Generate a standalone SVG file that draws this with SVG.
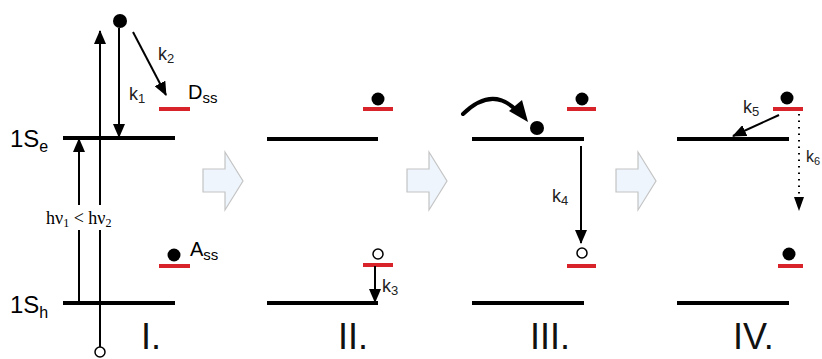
<svg xmlns="http://www.w3.org/2000/svg" width="822" height="359" viewBox="0 0 822 359">
<style>
.lvl{stroke:#000;stroke-width:4;fill:none}
.red{stroke:#d8232a;stroke-width:4;fill:none}
.ln{stroke:#000;stroke-width:2;fill:none}
.dot{fill:#000}
.hole{fill:#fff;stroke:#000;stroke-width:1.5}
.blk{fill:#eef5fc;stroke:#c4c4c4;stroke-width:1.2}
.t{font-family:"Liberation Sans",Arial,sans-serif;fill:#000}
.k{font-family:"Liberation Sans",Arial,sans-serif;font-size:18px;fill:#222}
.sub{font-size:13px}
.rn{font-family:"Liberation Sans",Arial,sans-serif;font-size:36px;fill:#111}
</style>
<defs>
<marker id="ah" markerWidth="14" markerHeight="12" refX="13" refY="6" orient="auto" markerUnits="userSpaceOnUse">
<path d="M0,0 L14,6 L0,12 Z" fill="#000"/>
</marker>
</defs>

<g id="block-arrows">
<path class="blk" d="M203,169 H225 V152 L243,181 L225,210 V192 H203 Z"/>
<path class="blk" d="M407,169 H429 V152 L447,181 L429,210 V192 H407 Z"/>
<path class="blk" d="M616,169 H638 V152 L656,181 L638,210 V192 H616 Z"/>
</g>

<g id="panel-I">
<line class="lvl" x1="63" y1="138" x2="175" y2="138"/>
<line class="lvl" x1="63" y1="303" x2="175" y2="303"/>
<text class="t" x="10" y="147" font-size="24">1S<tspan font-size="16" dy="5">e</tspan></text>
<text class="t" x="10" y="313" font-size="24">1S<tspan font-size="16" dy="5">h</tspan></text>
<line class="red" x1="159" y1="109" x2="190" y2="109"/>
<text class="t" x="188" y="99" font-size="20">D<tspan font-size="15" dy="4">ss</tspan></text>
<line class="red" x1="159" y1="266" x2="190" y2="266"/>
<circle class="dot" cx="174" cy="255" r="6.5"/>
<text class="t" x="190" y="256" font-size="20">A<tspan font-size="15" dy="4">ss</tspan></text>
<circle class="dot" cx="120" cy="21" r="7"/>
<circle class="hole" cx="100" cy="352" r="5"/>
<text x="46" y="224" font-size="18" style="font-family:'Liberation Serif',serif">hν<tspan font-size="12" dy="3">1</tspan><tspan dy="-3"> &lt; hν</tspan><tspan font-size="12" dy="3">2</tspan></text>
<text class="k" x="129" y="100">k<tspan class="sub" dy="3">1</tspan></text>
<text class="k" x="158" y="60">k<tspan class="sub" dy="3">2</tspan></text>
<text class="rn" x="141" y="349">I.</text>
</g>

<g id="panel-II">
<line class="lvl" x1="267" y1="139" x2="378" y2="139"/>
<line class="lvl" x1="267" y1="303" x2="378" y2="303"/>
<line class="red" x1="363" y1="109" x2="393" y2="109"/>
<circle class="dot" cx="378" cy="99" r="6.5"/>
<line class="red" x1="363" y1="265" x2="393" y2="265"/>
<circle class="hole" cx="378" cy="254" r="5"/>
<text class="k" x="382" y="292">k<tspan class="sub" dy="3">3</tspan></text>
<text class="rn" x="338" y="349">II.</text>
</g>

<g id="panel-III">
<line class="lvl" x1="472" y1="139" x2="584" y2="139"/>
<line class="lvl" x1="472" y1="303" x2="584" y2="303"/>
<line class="red" x1="567" y1="109" x2="596" y2="109"/>
<circle class="dot" cx="582" cy="99" r="6.5"/>
<circle class="dot" cx="537" cy="128" r="7"/>
<line class="red" x1="567" y1="266" x2="596" y2="266"/>
<circle class="hole" cx="582" cy="253" r="5"/>
<text class="k" x="552" y="202">k<tspan class="sub" dy="3">4</tspan></text>
<text class="rn" x="530" y="349">III.</text>
</g>

<g id="panel-IV">
<line class="lvl" x1="677" y1="139" x2="789" y2="139"/>
<line class="lvl" x1="677" y1="303" x2="789" y2="303"/>
<line class="red" x1="773" y1="109" x2="803" y2="109"/>
<circle class="dot" cx="787" cy="98" r="6.5"/>
<line class="red" x1="778" y1="266" x2="803" y2="266"/>
<circle class="dot" cx="789" cy="254" r="6.5"/>
<text class="k" x="743" y="113">k<tspan class="sub" dy="3">5</tspan></text>
<text class="k" x="806" y="162" font-size="16" style="font-size:16px">k<tspan font-size="11" style="font-size:11px" dy="3">6</tspan></text>
<text class="rn" x="733" y="349">IV.</text>
</g>

<g id="connectors">
<line class="ln" x1="100" y1="347" x2="100" y2="230"/>
<line class="ln" x1="100" y1="205" x2="100" y2="31" marker-end="url(#ah)"/>
<line class="ln" x1="79" y1="303" x2="79" y2="230"/>
<line class="ln" x1="79" y1="205" x2="79" y2="139" marker-end="url(#ah)"/>
<line class="ln" x1="119" y1="28" x2="119" y2="137" marker-end="url(#ah)"/>
<line class="ln" x1="133" y1="32" x2="166" y2="95" marker-end="url(#ah)"/>
<line class="ln" x1="375" y1="266" x2="375" y2="302" marker-end="url(#ah)"/>
<path d="M463,114 Q492,86 516,110" stroke="#000" stroke-width="4" fill="none" stroke-linecap="round"/>
<path d="M509,111 L522,100 L528,122 Z" fill="#000"/>
<line class="ln" x1="581" y1="146" x2="581" y2="243" marker-end="url(#ah)"/>
<line class="ln" x1="779" y1="115" x2="733" y2="136" marker-end="url(#ah)"/>
<line x1="799" y1="114" x2="799" y2="197" stroke="#000" stroke-width="2" stroke-dasharray="1.5,5"/>
<path d="M794,197 L804,197 L799,211 Z" fill="#000"/>
</g>
</svg>
